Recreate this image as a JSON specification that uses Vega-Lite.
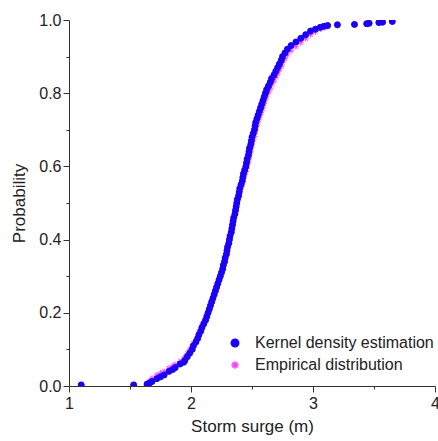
{
  "$schema": "https://vega.github.io/schema/vega-lite/v6.json",
  "autosize": "none",
  "width": 366,
  "height": 366,
  "padding": {"left": 69, "top": 20, "right": 3, "bottom": 55},
  "background": "white",
  "config": {
    "font": "Liberation Sans",
    "view": {"stroke": null},
    "axis": {
      "grid": false,
      "domainColor": "#333333",
      "tickColor": "#333333",
      "labelColor": "#222222",
      "titleColor": "#222222",
      "labelFontSize": 16,
      "titleFontSize": 17,
      "titleFontWeight": "normal",
      "labelFlush": false,
      "labelOverlap": false
    },
    "legend": {"labelFontSize": 16, "labelColor": "#222222", "labelFont": "Liberation Sans"}
  },
  "data": {
    "values": [
      {"x": 1.10, "kde": 0.003, "emp": 0.003},
      {"x": 1.53, "kde": 0.003, "emp": 0.003},
      {"x": 1.64, "kde": 0.005, "emp": 0.007},
      {"x": 1.66, "kde": 0.008, "emp": 0.014},
      {"x": 1.68, "kde": 0.012, "emp": 0.021},
      {"x": 1.72, "kde": 0.020, "emp": 0.030},
      {"x": 1.75, "kde": 0.025, "emp": 0.035},
      {"x": 1.78, "kde": 0.030, "emp": 0.040},
      {"x": 1.82, "kde": 0.040, "emp": 0.049},
      {"x": 1.85, "kde": 0.045, "emp": 0.054},
      {"x": 1.87, "kde": 0.050, "emp": 0.059},
      {"x": 1.91, "kde": 0.060, "emp": 0.067},
      {"x": 1.94, "kde": 0.065, "emp": 0.073},
      {"x": 1.95, "kde": 0.070, "emp": 0.079},
      {"x": 1.97, "kde": 0.080, "emp": 0.089},
      {"x": 1.99, "kde": 0.090, "emp": 0.099},
      {"x": 2.01, "kde": 0.100, "emp": 0.108},
      {"x": 2.02, "kde": 0.110, "emp": 0.117},
      {"x": 2.04, "kde": 0.120, "emp": 0.127},
      {"x": 2.055, "kde": 0.130, "emp": 0.136},
      {"x": 2.065, "kde": 0.140, "emp": 0.146},
      {"x": 2.08, "kde": 0.150, "emp": 0.155},
      {"x": 2.09, "kde": 0.160, "emp": 0.165},
      {"x": 2.105, "kde": 0.170, "emp": 0.174},
      {"x": 2.12, "kde": 0.180, "emp": 0.184},
      {"x": 2.13, "kde": 0.190, "emp": 0.193},
      {"x": 2.14, "kde": 0.200, "emp": 0.203},
      {"x": 2.15, "kde": 0.210, "emp": 0.212},
      {"x": 2.16, "kde": 0.220, "emp": 0.222},
      {"x": 2.17, "kde": 0.230, "emp": 0.231},
      {"x": 2.18, "kde": 0.240, "emp": 0.241},
      {"x": 2.19, "kde": 0.250, "emp": 0.250},
      {"x": 2.20, "kde": 0.260, "emp": 0.260},
      {"x": 2.21, "kde": 0.270, "emp": 0.270},
      {"x": 2.22, "kde": 0.280, "emp": 0.280},
      {"x": 2.23, "kde": 0.290, "emp": 0.290},
      {"x": 2.24, "kde": 0.300, "emp": 0.300},
      {"x": 2.25, "kde": 0.310, "emp": 0.310},
      {"x": 2.26, "kde": 0.320, "emp": 0.320},
      {"x": 2.265, "kde": 0.330, "emp": 0.330},
      {"x": 2.275, "kde": 0.340, "emp": 0.340},
      {"x": 2.28, "kde": 0.350, "emp": 0.350},
      {"x": 2.29, "kde": 0.360, "emp": 0.360},
      {"x": 2.295, "kde": 0.370, "emp": 0.370},
      {"x": 2.30, "kde": 0.380, "emp": 0.380},
      {"x": 2.31, "kde": 0.390, "emp": 0.390},
      {"x": 2.315, "kde": 0.400, "emp": 0.400},
      {"x": 2.32, "kde": 0.410, "emp": 0.410},
      {"x": 2.33, "kde": 0.420, "emp": 0.419},
      {"x": 2.335, "kde": 0.430, "emp": 0.429},
      {"x": 2.34, "kde": 0.440, "emp": 0.438},
      {"x": 2.345, "kde": 0.450, "emp": 0.448},
      {"x": 2.35, "kde": 0.460, "emp": 0.457},
      {"x": 2.36, "kde": 0.470, "emp": 0.467},
      {"x": 2.365, "kde": 0.480, "emp": 0.476},
      {"x": 2.37, "kde": 0.490, "emp": 0.486},
      {"x": 2.375, "kde": 0.500, "emp": 0.495},
      {"x": 2.38, "kde": 0.510, "emp": 0.504},
      {"x": 2.39, "kde": 0.520, "emp": 0.514},
      {"x": 2.395, "kde": 0.530, "emp": 0.523},
      {"x": 2.40, "kde": 0.540, "emp": 0.532},
      {"x": 2.41, "kde": 0.550, "emp": 0.541},
      {"x": 2.42, "kde": 0.560, "emp": 0.550},
      {"x": 2.425, "kde": 0.570, "emp": 0.559},
      {"x": 2.43, "kde": 0.580, "emp": 0.568},
      {"x": 2.44, "kde": 0.590, "emp": 0.577},
      {"x": 2.45, "kde": 0.600, "emp": 0.586},
      {"x": 2.455, "kde": 0.610, "emp": 0.595},
      {"x": 2.46, "kde": 0.620, "emp": 0.604},
      {"x": 2.47, "kde": 0.630, "emp": 0.613},
      {"x": 2.475, "kde": 0.640, "emp": 0.622},
      {"x": 2.48, "kde": 0.650, "emp": 0.632},
      {"x": 2.49, "kde": 0.660, "emp": 0.642},
      {"x": 2.495, "kde": 0.670, "emp": 0.652},
      {"x": 2.50, "kde": 0.680, "emp": 0.662},
      {"x": 2.51, "kde": 0.690, "emp": 0.672},
      {"x": 2.52, "kde": 0.700, "emp": 0.682},
      {"x": 2.525, "kde": 0.710, "emp": 0.692},
      {"x": 2.53, "kde": 0.720, "emp": 0.702},
      {"x": 2.54, "kde": 0.730, "emp": 0.712},
      {"x": 2.55, "kde": 0.740, "emp": 0.722},
      {"x": 2.56, "kde": 0.750, "emp": 0.732},
      {"x": 2.57, "kde": 0.760, "emp": 0.742},
      {"x": 2.58, "kde": 0.770, "emp": 0.752},
      {"x": 2.59, "kde": 0.780, "emp": 0.762},
      {"x": 2.60, "kde": 0.790, "emp": 0.772},
      {"x": 2.61, "kde": 0.800, "emp": 0.782},
      {"x": 2.62, "kde": 0.810, "emp": 0.792},
      {"x": 2.635, "kde": 0.820, "emp": 0.802},
      {"x": 2.65, "kde": 0.830, "emp": 0.812},
      {"x": 2.66, "kde": 0.840, "emp": 0.822},
      {"x": 2.68, "kde": 0.850, "emp": 0.833},
      {"x": 2.695, "kde": 0.860, "emp": 0.843},
      {"x": 2.71, "kde": 0.870, "emp": 0.853},
      {"x": 2.725, "kde": 0.880, "emp": 0.863},
      {"x": 2.74, "kde": 0.890, "emp": 0.873},
      {"x": 2.75, "kde": 0.900, "emp": 0.884},
      {"x": 2.77, "kde": 0.910, "emp": 0.894},
      {"x": 2.79, "kde": 0.920, "emp": 0.905},
      {"x": 2.82, "kde": 0.930, "emp": 0.916},
      {"x": 2.86, "kde": 0.940, "emp": 0.927},
      {"x": 2.90, "kde": 0.950, "emp": 0.938},
      {"x": 2.94, "kde": 0.960, "emp": 0.949},
      {"x": 2.98, "kde": 0.970, "emp": 0.960},
      {"x": 3.02, "kde": 0.975, "emp": 0.968},
      {"x": 3.06, "kde": 0.980, "emp": 0.975},
      {"x": 3.09, "kde": 0.983, "emp": 0.979},
      {"x": 3.12, "kde": 0.985, "emp": 0.982},
      {"x": 3.20, "kde": 0.987, "emp": 0.985},
      {"x": 3.34, "kde": 0.988, "emp": 0.987},
      {"x": 3.44, "kde": 0.990, "emp": 0.989},
      {"x": 3.46, "kde": 0.991, "emp": 0.990},
      {"x": 3.54, "kde": 0.993, "emp": 0.992},
      {"x": 3.57, "kde": 0.994, "emp": 0.993},
      {"x": 3.65, "kde": 0.996, "emp": 0.995}
    ]
  },
  "transform": [
    {"fold": ["kde", "emp"], "as": ["series", "prob"]}
  ],
  "mark": {"type": "point", "clip": true, "opacity": 1, "strokeWidth": 1, "size": 36},
  "encoding": {
    "x": {
      "field": "x",
      "type": "quantitative",
      "scale": {"domain": [1, 4], "nice": false, "zero": false},
      "axis": {
        "title": "Storm surge (m)",
        "values": [1, 1.5, 2, 2.5, 3, 3.5, 4],
        "labelExpr": "datum.value % 1 == 0 ? format(datum.value, 'd') : ''",
        "tickSize": {"condition": {"test": "datum.value % 1 != 0", "value": 3}, "value": 6},
        "labelPadding": 3,
        "titlePadding": 7
      }
    },
    "y": {
      "field": "prob",
      "type": "quantitative",
      "scale": {"domain": [0, 1], "nice": false},
      "axis": {
        "title": "Probability",
        "values": [0, 0.1, 0.2, 0.3, 0.4, 0.5, 0.6, 0.7, 0.8, 0.9, 1.0],
        "labelExpr": "round(datum.value * 10) % 2 == 0 ? format(datum.value, '.1f') : ''",
        "tickSize": {"condition": {"test": "round(datum.value * 10) % 2 != 0", "value": 3}, "value": 6},
        "labelPadding": 2,
        "titlePadding": 10
      }
    },
    "fill": {
      "field": "series",
      "type": "nominal",
      "scale": {"domain": ["kde", "emp"], "range": ["#1a00f5", "transparent"]},
      "legend": {
        "orient": "none",
        "legendX": 158,
        "legendY": 315,
        "title": null,
        "padding": 0,
        "rowPadding": 6,
        "labelOffset": 12,
        "labelLimit": 0,
        "symbolSize": 55,
        "labelExpr": "datum.label == 'kde' ? 'Kernel density estimation' : 'Empirical distribution'"
      }
    },
    "stroke": {
      "field": "series",
      "type": "nominal",
      "scale": {"domain": ["kde", "emp"], "range": ["#1a00f5", "#ff40ff"]}
    },
    "shape": {
      "field": "series",
      "type": "nominal",
      "scale": {"domain": ["kde", "emp"], "range": ["circle", "M-1,0L1,0M0,-1L0,1M-0.7,-0.7L0.7,0.7M-0.7,0.7L0.7,-0.7"]}
    },
    "order": {"field": "series", "sort": "ascending"}
  }
}
